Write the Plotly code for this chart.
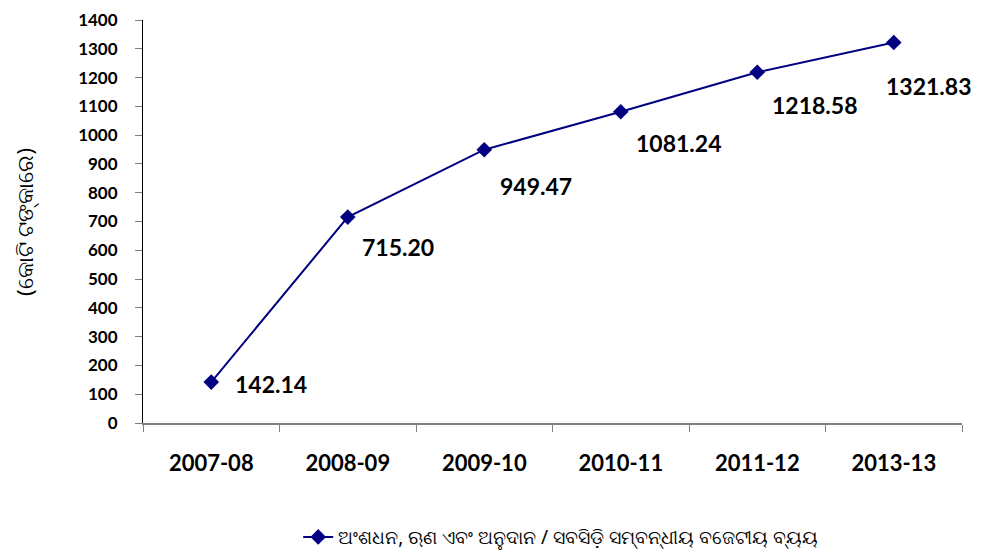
import plotly.graph_objects as go

years = ["2007-08", "2008-09", "2009-10", "2010-11", "2011-12", "2013-13"]
values = [142.14, 715.20, 949.47, 1081.24, 1218.58, 1321.83]
value_labels = ["142.14", "715.20", "949.47", "1081.24", "1218.58", "1321.83"]
y_ticks = list(range(0, 1401, 100))
series_name = "ଅଂଶଧନ, ଋଣ ଏବଂ ଅନୁଦାନ / ସବସିଡ଼ି ସମ୍ବନ୍ଧୀୟ ବଜେଟୀୟ ବ୍ୟୟ"
y_title = "(କୋଟି ଟଙ୍କାରେ)"

# label offsets (pixels) relative to each point
label_dx = [22, 12, 14, 13, 13, -10]
label_dy = [-2, -30, -36, -31, -33, -43]

FONT = "Lato, 'Open Sans', Arial, sans-serif"
NAVY = "#000080"

fig = go.Figure()
fig.add_trace(go.Scatter(
    x=years, y=values, mode="lines+markers", name=series_name,
    line=dict(color=NAVY, width=2),
    marker=dict(symbol="diamond", size=12, color=NAVY),
))

for x, y, t, dx, dy in zip(years, values, value_labels, label_dx, label_dy):
    fig.add_annotation(x=x, y=y, text="<b>%s</b>" % t, showarrow=False,
                       xanchor="left", yanchor="middle", xshift=dx, yshift=dy,
                       font=dict(family=FONT, size=23, color="black"))

fig.add_annotation(x=-0.146, y=0.5, xref="paper", yref="paper", text=y_title,
                   textangle=-90, showarrow=False, xanchor="center", yanchor="middle",
                   font=dict(family="'Noto Sans', Lato, sans-serif", size=22, color="black"))

fig.update_layout(
    width=988, height=553,
    margin=dict(l=135, r=34, t=12, b=138, autoexpand=False),
    paper_bgcolor="white", plot_bgcolor="white",
    showlegend=True,
    legend=dict(orientation="h", x=0.51, xanchor="center", y=-0.283, yanchor="middle",
                font=dict(family="'Noto Sans', Lato, sans-serif", size=19, color="black")),
    font=dict(family=FONT, color="black"),
)
fig.update_xaxes(
    type="category", range=[-0.5, 5.5], tickson="boundaries",
    ticks="outside", ticklen=7, tickcolor="#808080",
    showline=True, linecolor="#808080", linewidth=2,
    showgrid=False, automargin=False,
    tickfont=dict(family=FONT, size=22, color="black", weight="bold"),
    ticklabelstandoff=20,
)
fig.update_yaxes(
    range=[0, 1400], tickvals=y_ticks, ticktext=[str(v) for v in y_ticks],
    ticks="outside", ticklen=7, tickcolor="#808080",
    showline=True, linecolor="black", linewidth=1,
    showgrid=False, zeroline=False, automargin=False,
    tickfont=dict(family=FONT, size=17, color="black", weight="bold"),
    ticklabelstandoff=14,
)
fig.write_html("out.html")
